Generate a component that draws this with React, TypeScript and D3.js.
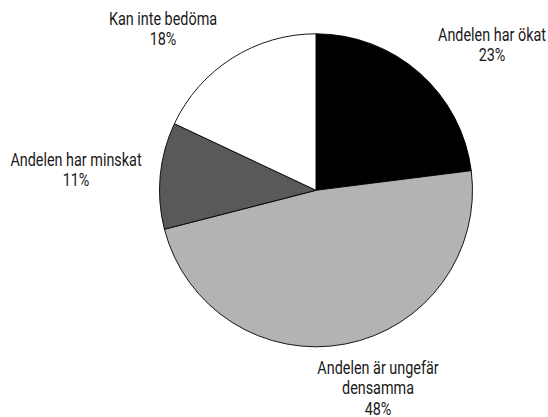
import React from "react";
import * as d3 from "d3";

const categories = [
  "Andelen har ökat",
  "Andelen är ungefär densamma",
  "Andelen har minskat",
  "Kan inte bedöma",
];
const labelLines = [
  ["Andelen har ökat"],
  ["Andelen är ungefär", "densamma"],
  ["Andelen har minskat"],
  ["Kan inte bedöma"],
];
const values = [23, 48, 11, 18];
const colors = ["#000000", "#b3b3b3", "#595959", "#ffffff"];

const W = 548;
const H = 417;
const cx = 316;
const cy = 190.3;
const R = 156.5;
// label anchor (center x, first baseline y)
const labelAnchors: [number, number][] = [
  [492, 41],
  [378, 374],
  [76, 166],
  [163, 25],
];
const FONT = "Roboto, 'Noto Sans', sans-serif";
const FS = 18;
const SX = 0.8;
const LH = 20.3;

export default function App() {
  const pie = d3.pie<number>().sort(null).value((d) => d)(values);
  const arc = d3.arc<d3.PieArcDatum<number>>().innerRadius(0).outerRadius(R);
  const total = d3.sum(values);
  return (
    <svg
      width={W}
      height={H}
      style={{ position: "absolute", left: 0, top: 0, background: "#fff" }}
    >
      <g transform={`translate(${cx},${cy})`}>
        {pie.map((p, i) => (
          <path
            key={categories[i]}
            d={arc(p) || ""}
            fill={colors[i]}
            stroke="#000"
            strokeWidth={0.9}
          />
        ))}
      </g>
      {pie.map((p, i) => {
        const [x, y] = labelAnchors[i];
        const lines = [...labelLines[i], `${Math.round((values[i] / total) * 100)}%`];
        return (
          <text
            key={categories[i]}
            transform={`translate(${x},0) scale(${SX},1)`}
            textAnchor="middle"
            fontFamily={FONT}
            fontSize={FS}
            fill="#1a1a1a"
          >
            {lines.map((l, j) => (
              <tspan key={j} x={0} y={y + j * LH}>
                {l}
              </tspan>
            ))}
          </text>
        );
      })}
    </svg>
  );
}
